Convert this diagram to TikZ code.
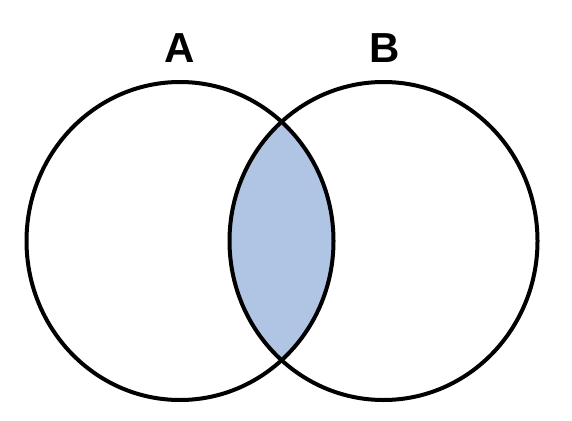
\documentclass[tikz,border=0pt]{standalone}
\usepackage{fontspec}
\setmainfont{Liberation Sans}
\definecolor{lens}{HTML}{B0C4E4}
\tikzset{
  setline/.style={line width=4pt, draw=black},
  setlabel/.style={font=\fontsize{42}{42}\selectfont\bfseries, inner sep=0pt, anchor=base}
}
\begin{document}
\begin{tikzpicture}[x=1pt,y=-1pt]
\useasboundingbox (0,0) rectangle (572,420);
\coordinate (ca) at (180,241);
\coordinate (cb) at (383.5,241);
\begin{scope}
  \clip (ca) ellipse [x radius=153.5, y radius=159];
  \fill[lens] (cb) ellipse [x radius=154, y radius=159];
\end{scope}
\draw[setline] (ca) ellipse [x radius=153.5, y radius=159];
\draw[setline] (cb) ellipse [x radius=154, y radius=159];
\node[setlabel] (la) at (180,63) {A};
\node[setlabel] (lb) at (385,63) {B};
\end{tikzpicture}
\end{document}
